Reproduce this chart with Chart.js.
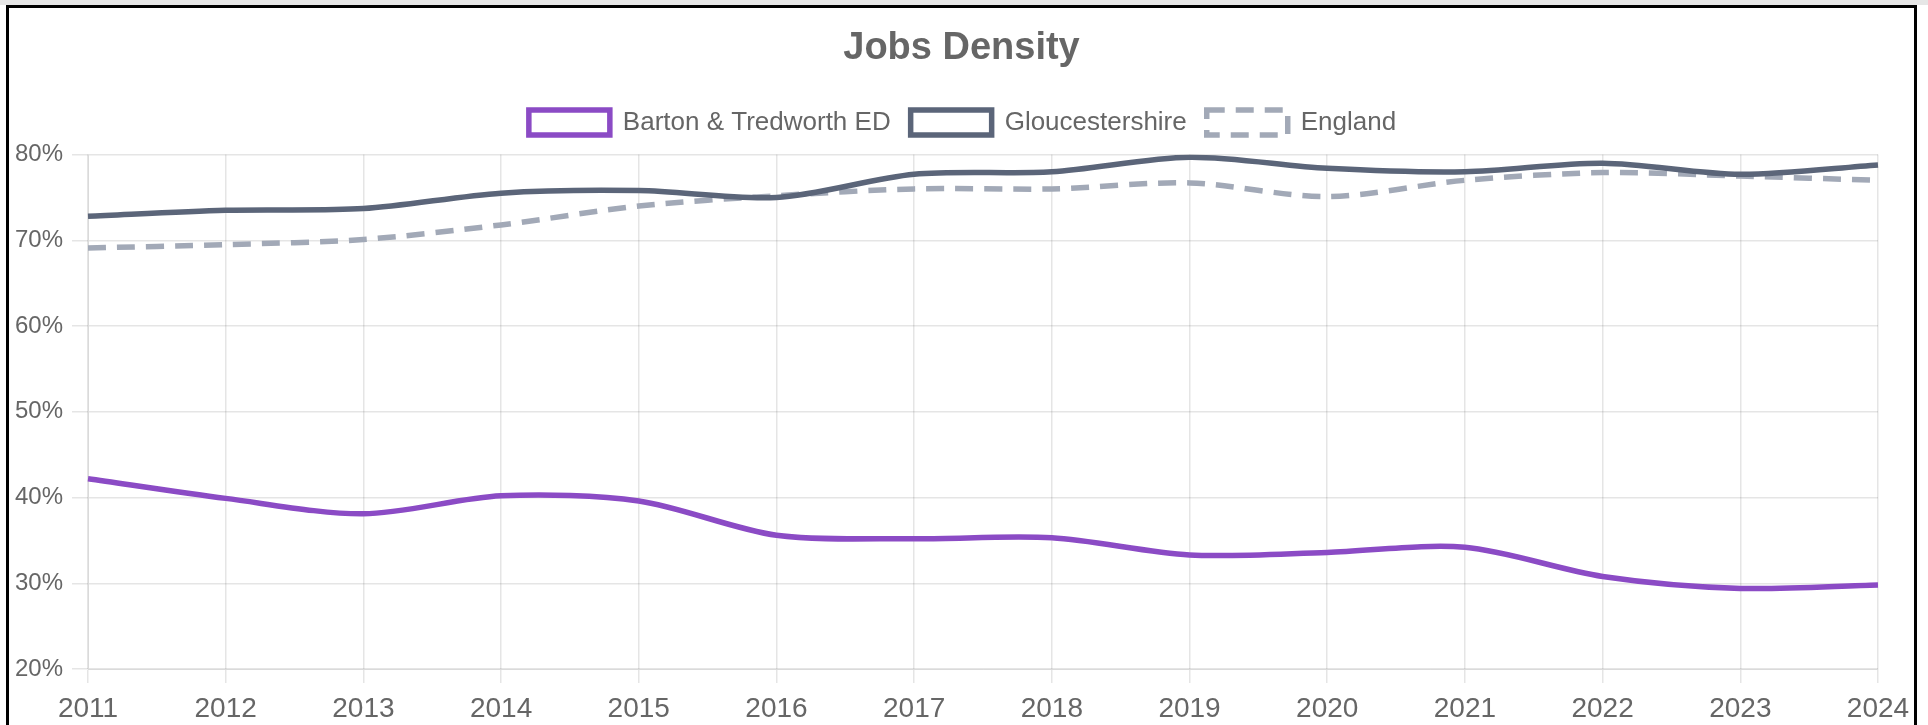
<!DOCTYPE html>
<html>
<head>
<meta charset="utf-8">
<script src="https://cdn.jsdelivr.net/npm/chart.js@4/dist/chart.umd.min.js"></script>
<style>
  html, body { margin:0; padding:0; background:#fff; overflow:hidden; width:1928px; height:725px; }
  #topband { position:absolute; left:0; top:0; width:1928px; height:5px; background:#e6e6e6; }
  #box { position:absolute; left:6px; top:5px; width:1905px; height:740px; border:3px solid #000; background:#fff; }
  #wrap { position:absolute; left:0; top:0; width:1905px; height:714px; }
</style>
</head>
<body>
<div id="topband"></div>
<div id="box"><div id="wrap"><canvas id="c"></canvas></div></div>
<script>
const years = ['2011','2012','2013','2014','2015','2016','2017','2018','2019','2020','2021','2022','2023','2024'];
const bartonTredworth = [42.2, 39.9, 38.1, 40.2, 39.6, 35.6, 35.2, 35.3, 33.3, 33.6, 34.2, 30.8, 29.4, 29.8];
const gloucestershire = [72.8, 73.5, 73.7, 75.5, 75.8, 75.0, 77.7, 78.0, 79.7, 78.4, 78.0, 79.0, 77.7, 78.8];
const england = [69.1, 69.5, 70.1, 71.8, 74.0, 75.2, 76.0, 76.0, 76.7, 75.1, 77.0, 77.9, 77.5, 77.0];
const yTicks = [20, 30, 40, 50, 60, 70, 80];

const FONT = "'Liberation Sans', Arial, Helvetica, sans-serif";
Chart.defaults.font.family = FONT;
Chart.defaults.color = '#666';

const RIGHT_PAD = 36;
const centerFix = {
  id: 'centerFix',
  beforeInit(chart) {
    const lg = chart.legend;
    if (lg) {
      const fit = lg.fit;
      lg.fit = function () { fit.call(this); this.height += 9; };
      const draw = lg.draw;
      lg.draw = function () {
        const r = this.right;
        this.right = r + RIGHT_PAD + 2;
        draw.call(this);
        this.right = r;
      };
    }
    const tb = chart.titleBlock;
    if (tb) {
      const tdraw = tb.draw;
      tb.draw = function () {
        const r = this.right;
        this.right = r + RIGHT_PAD;
        tdraw.call(this);
        this.right = r;
      };
    }
  }
};

new Chart(document.getElementById('c'), {
  type: 'line',
  data: {
    labels: years,
    datasets: [
      { label: 'Barton & Tredworth ED', data: bartonTredworth, borderColor: '#8b4bc5', backgroundColor: '#ffffff', borderWidth: 5.5, pointRadius: 0, tension: 0.3, fill: false },
      { label: 'Gloucestershire', data: gloucestershire, borderColor: '#5b6579', backgroundColor: '#ffffff', borderWidth: 5.5, pointRadius: 0, tension: 0.3, fill: false },
      { label: 'England', data: england, borderColor: '#a2a9b7', backgroundColor: '#ffffff', borderWidth: 5.5, borderDash: [18, 11], pointRadius: 0, tension: 0.3, fill: false }
    ]
  },
  plugins: [centerFix],
  options: {
    responsive: true,
    maintainAspectRatio: false,
    animation: false,
    layout: { padding: { top: 0, right: RIGHT_PAD, bottom: 0, left: 0 } },
    plugins: {
      title: { display: true, text: 'Jobs Density', color: '#666', font: { size: 38, weight: 'bold', family: FONT }, padding: { top: 18, bottom: 18 } },
      legend: {
        display: true,
        labels: { font: { size: 26, family: FONT }, color: '#666', boxWidth: 81, boxHeight: 25, padding: 20 }
      },
      tooltip: { enabled: false }
    },
    scales: {
      x: {
        grid: { color: 'rgba(0,0,0,0.1)', lineWidth: 1.5, tickLength: 14 },
        border: { color: 'rgba(0,0,0,0.1)' },
        ticks: { font: { size: 28, family: FONT }, color: '#666', padding: 9, maxRotation: 0, autoSkip: false },
        afterFit: (s) => { s.height = 53; s.paddingLeft = 0; s.paddingRight = 0; }
      },
      y: {
        min: 20, max: 80,
        afterBuildTicks: (s) => { s.ticks = yTicks.map(v => ({ value: v })); },
        grid: { color: 'rgba(0,0,0,0.1)', lineWidth: 1.5, tickLength: 16 },
        border: { color: 'rgba(0,0,0,0.1)' },
        ticks: { font: { size: 24, family: FONT }, color: '#666', padding: 9, callback: (v) => v + '%' },
        afterFit: (s) => { s.width = 79; }
      }
    }
  }
});
</script>
</body>
</html>
